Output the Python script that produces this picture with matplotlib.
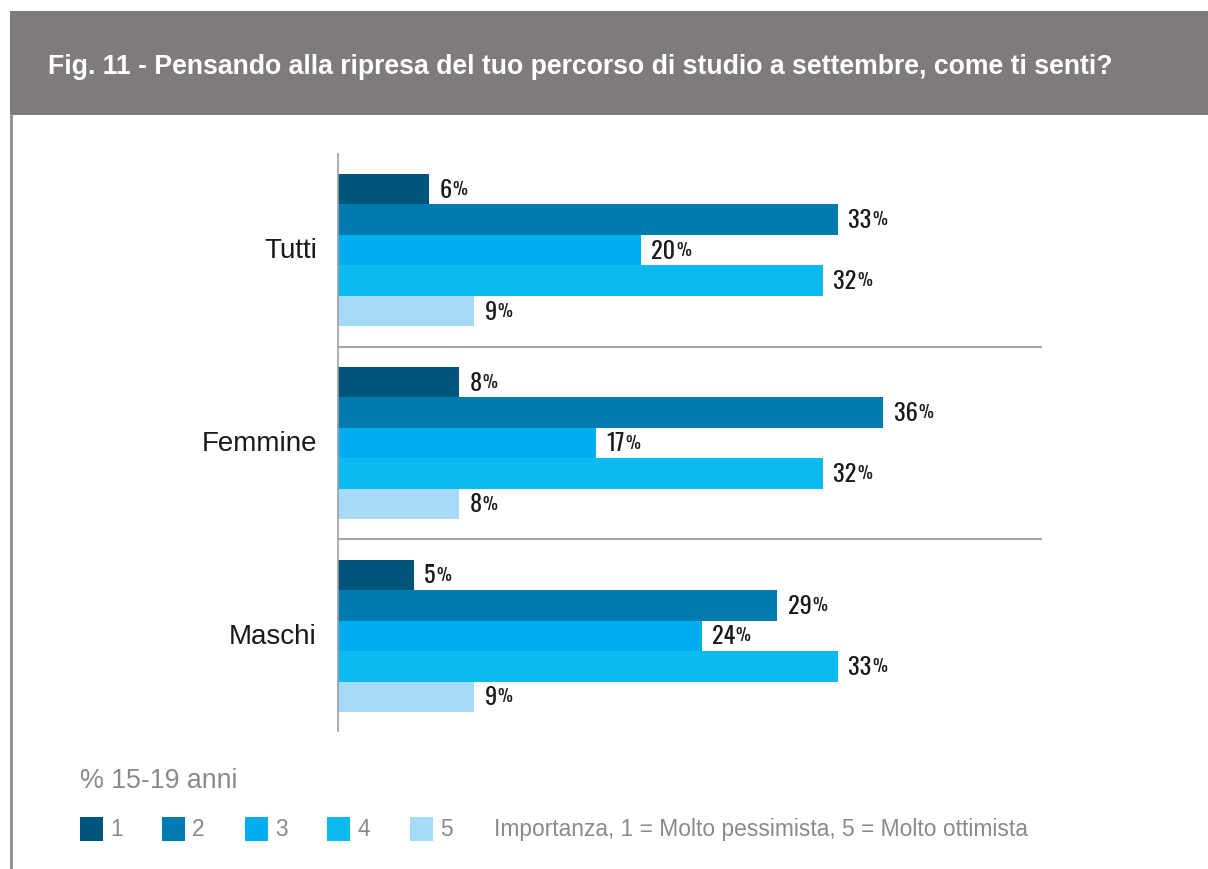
import matplotlib
matplotlib.use("Agg")
import matplotlib.pyplot as plt
from matplotlib.patches import Rectangle
from matplotlib.lines import Line2D

# Data (% 15-19 anni)
groups = ["Tutti", "Femmine", "Maschi"]
levels = ["1", "2", "3", "4", "5"]
tutti = [6, 33, 20, 32, 9]
femmine = [8, 36, 17, 32, 8]
maschi = [5, 29, 24, 33, 9]
values = [tutti, femmine, maschi]

colors = ["#00557a", "#007bb1", "#00adee", "#0bbaef", "#a5dbf7"]

title = "Fig. 11 - Pensando alla ripresa del tuo percorso di studio a settembre, come ti senti?"
unit_note = "% 15-19 anni"
legend_note = "Importanza, 1 = Molto pessimista, 5 = Molto ottimista"

W, H = 1208, 870
NARROW = ["Oswald", "Roboto Condensed", "DejaVu Sans"]
REGULAR = ["Liberation Sans", "DejaVu Sans"]


def fx(px):
    return px / W


def fy(py):
    return 1 - py / H


fig = plt.figure(figsize=(W / 100, H / 100), dpi=100)
fig.patch.set_facecolor("white")

# header band + left border
fig.patches.append(Rectangle((fx(10), fy(116)), fx(1208) - fx(10), fy(12) - fy(116),
                             transform=fig.transFigure, facecolor="#7f7b7c",
                             edgecolor="none", zorder=0))
fig.lines.append(Line2D([fx(11), fx(11)], [fy(116), fy(870)], transform=fig.transFigure,
                        color="#8c8c8c", linewidth=2))
fig.text(fx(48), fy(67), title, color="white", fontsize=19.15, fontweight="bold",
         family=REGULAR, ha="left", va="center")

# main axes
ax = fig.add_axes([fx(338), fy(732), fx(1042) - fx(338), fy(155) - fy(732)])
bar_h = 1.0
pitch = 6.33
xmax = (1042 - 338) / 15.15

for gi, (grp, vals) in enumerate(zip(groups, values)):
    base = gi * pitch
    for li, v in enumerate(vals):
        y = base + li
        ax.barh(y, v, height=bar_h, color=colors[li], edgecolor="none")
        num = ax.annotate(f"{v}", xy=(v, y), xytext=(7.5, 0), textcoords="offset points",
                          ha="left", va="center", fontsize=17.5, family=NARROW,
                          color="#1a1a1a")
        ax.annotate("%", xy=(1, 0), xycoords=num, xytext=(0.3, 2.8),
                    textcoords="offset points", ha="left", va="bottom",
                    fontsize=12, family=NARROW, color="#1a1a1a")
    ax.text(-0.03, base + 2, grp, transform=ax.get_yaxis_transform(), ha="right",
            va="center", fontsize=20, family=REGULAR, color="#1a1a1a")
    if gi < len(groups) - 1:
        sep = base + 4.5 + (pitch - 5) / 2
        ax.axhline(sep, color="#a6a6a6", linewidth=1.5, xmin=0, xmax=1)

ax.set_xlim(0, xmax)
ax.set_ylim(2 * pitch + 4 + 0.5 + (732 - 713) / 30.5, -0.5 - (175 - 155) / 30.5)
ax.set_xticks([])
ax.set_yticks([])
for s in ["top", "right", "bottom"]:
    ax.spines[s].set_visible(False)
ax.spines["left"].set_color("#a0a0a0")
ax.spines["left"].set_linewidth(1.2)

# footer
fig.text(fx(80), fy(781), unit_note, color="#8a8a8a", fontsize=19.3, family=REGULAR,
         ha="left", va="center")
sq_x = [80, 162, 245, 327, 410]
for lab, col, x0 in zip(levels, colors, sq_x):
    fig.patches.append(Rectangle((fx(x0), fy(842)), fx(23), 24 / H,
                                 transform=fig.transFigure, facecolor=col,
                                 edgecolor="none"))
    fig.text(fx(x0 + 30), fy(830), lab, color="#8a8a8a", fontsize=16.4, family=REGULAR,
             ha="left", va="center")
fig.text(fx(494), fy(830), legend_note, color="#8a8a8a", fontsize=16.4, family=REGULAR,
         ha="left", va="center")

fig.savefig("out.png", dpi=100)
